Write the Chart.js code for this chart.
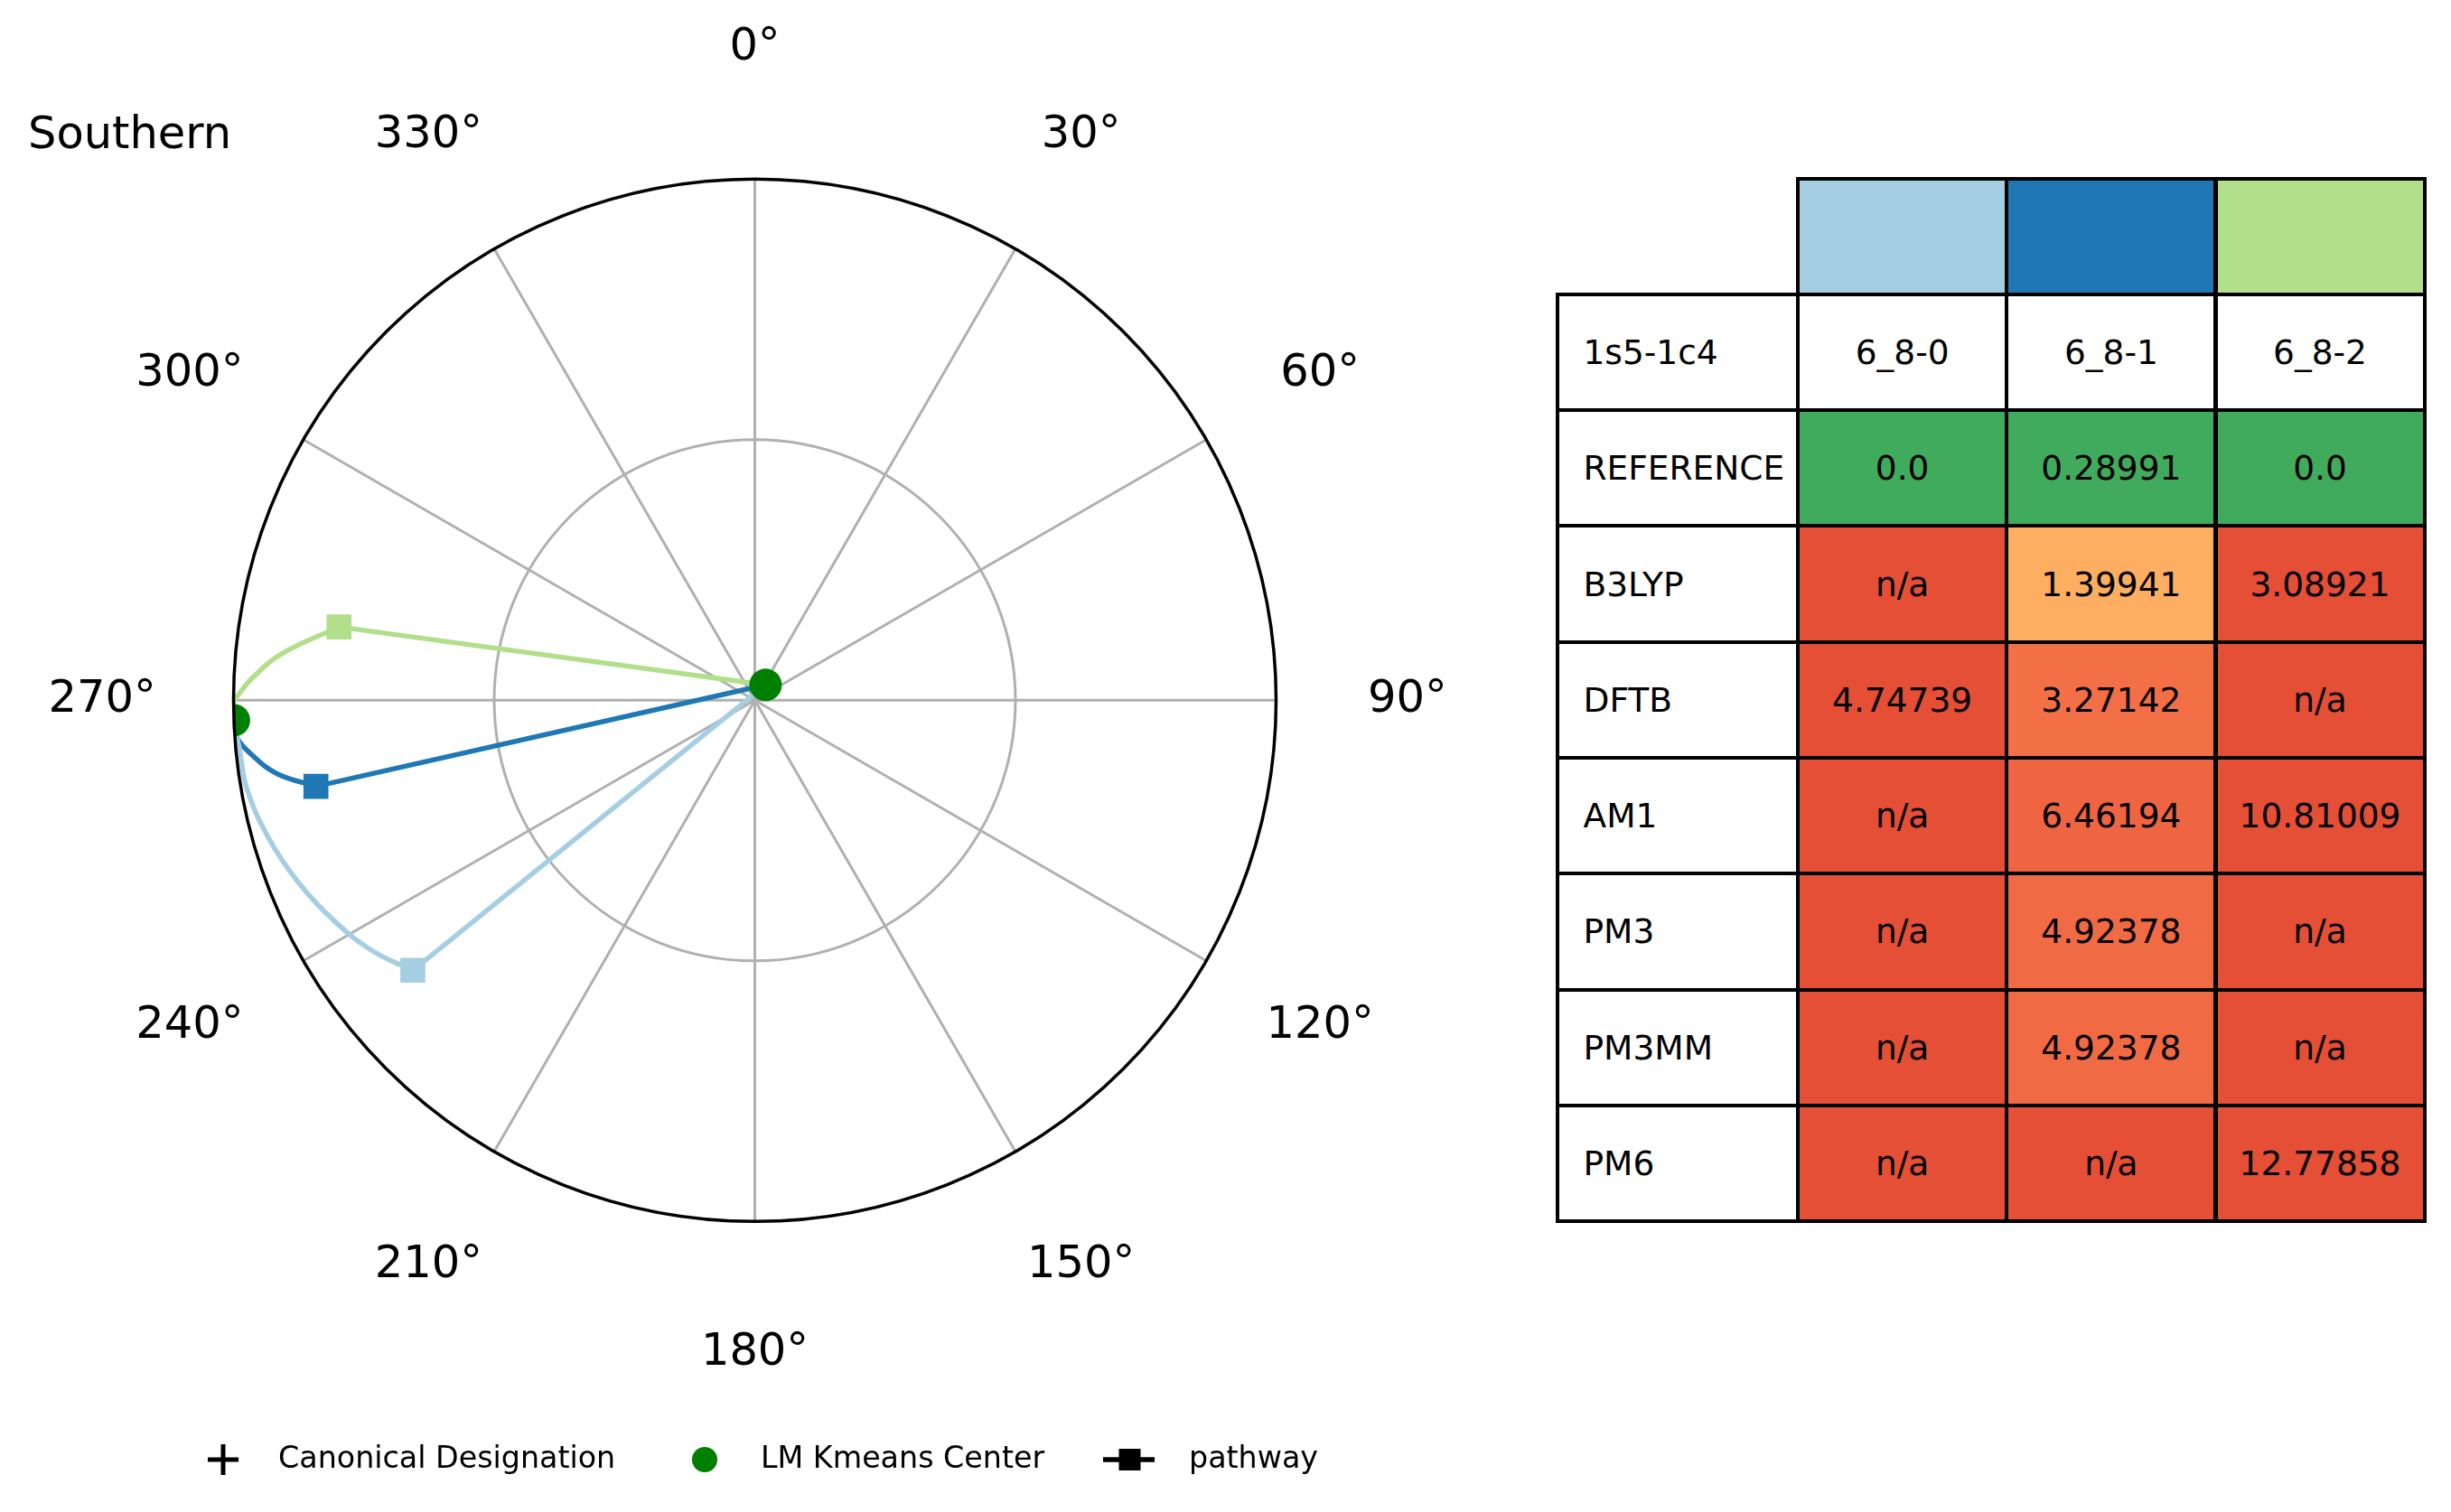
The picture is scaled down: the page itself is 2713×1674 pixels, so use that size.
<!DOCTYPE html>
<html><head><meta charset="utf-8">
<script src="https://cdn.jsdelivr.net/npm/chart.js@4.4.0/dist/chart.umd.min.js"></script>
<style>
html,body{margin:0;padding:0;background:#fff;}
#wrap{position:relative;width:2713px;height:1674px;overflow:hidden;background:#fff;}
#c{position:absolute;left:0;top:0;}
.cell{position:absolute;box-sizing:border-box;border:4px solid #000;font-family:'DejaVu Sans';font-size:37.5px;color:#000;display:flex;align-items:center;justify-content:center;white-space:nowrap;}
.lab{justify-content:flex-start;padding-left:27px;}
.blank{border:none;}
</style></head><body>
<div id="wrap"><canvas id="c" width="2713" height="1674"></canvas><div id="tbl"></div></div>
<script>
// ---------- data ----------
const titleText = 'Southern';
const angleTicks = [0, 30, 60, 90, 120, 150, 180, 210, 240, 270, 300, 330];
const radialGrid = [0.5];
const lmTheta = [35, 267.8];          // LM Kmeans centers (deg)
const lmR = [0.036, 1.0];
const pathNames = ['6_8-0', '6_8-1', '6_8-2'];
const pathColors = ['#a6cee3', '#1f78b4', '#b2df8a'];
// pathways: start LM -> pathway point (square) -> arc -> end LM
const path0Theta = [35, 231.7, 236.6, 242.3, 248.3, 254.3, 260.1, 264.5, 267.8];
const path0R     = [0.036, 0.836, 0.876, 0.911, 0.943, 0.970, 0.989, 0.993, 1.0];
const path1Theta = [35, 258.9, 261.25, 263.7, 266.0, 267.8];
const path1R     = [0.036, 0.858, 0.927, 0.969, 0.997, 1.0];
const path2Theta = [35, 280.0, 275.7, 272.6, 270.5, 269.8, 267.8];
const path2R     = [0.036, 0.810, 0.910, 0.964, 0.992, 1.0, 1.0];
const legendLabels = ['Canonical Designation', 'LM Kmeans Center', 'pathway'];
// table
const tableCorner = '1s5-1c4';
const tableMethods = ['REFERENCE', 'B3LYP', 'DFTB', 'AM1', 'PM3', 'PM3MM', 'PM6'];
const vals680 = ['0.0', 'n/a', '4.74739', 'n/a', 'n/a', 'n/a', 'n/a'];
const vals681 = ['0.28991', '1.39941', '3.27142', '6.46194', '4.92378', '4.92378', 'n/a'];
const vals682 = ['0.0', '3.08921', 'n/a', '10.81009', 'n/a', 'n/a', '12.77858'];
const cellColors680 = ['#41ab5d', '#e44f35', '#e44f35', '#e44f35', '#e44f35', '#e44f35', '#e44f35'];
const cellColors681 = ['#41ab5d', '#fdae61', '#f37046', '#ef6542', '#f06a44', '#f06a44', '#e44f35'];
const cellColors682 = ['#41ab5d', '#e44f35', '#e44f35', '#e44f35', '#e44f35', '#e44f35', '#e44f35'];

// ---------- helpers ----------
const rad = d => d * Math.PI / 180;
const toXY = (t, r) => ({ x: r * Math.sin(rad(t)), y: r * Math.cos(rad(t)) });
const paths = [[path0Theta, path0R], [path1Theta, path1R], [path2Theta, path2R]];

const datasets = [];
datasets.push({
  label: 'LM Kmeans Center',
  data: lmTheta.map((t, i) => toXY(t, lmR[i])),
  pointRadius: 18, pointHoverRadius: 18, pointBackgroundColor: '#008000', pointBorderWidth: 0,
  showLine: false, order: 0, clip: false
});
paths.forEach(([th, rr], k) => {
  const pts = th.map((t, i) => toXY(t, rr[i]));
  datasets.push({
    label: pathNames[k] + ' leg',
    data: pts.slice(0, 2),
    showLine: true, borderColor: pathColors[k], borderWidth: 5.5, tension: 0,
    pointRadius: [0, 18.5], pointHoverRadius: [0, 18.5], pointStyle: 'rect',
    pointBackgroundColor: pathColors[k], pointBorderColor: pathColors[k], pointBorderWidth: 1.5,
    order: 1, clip: false
  });
  datasets.push({
    label: pathNames[k] + ' arc',
    data: pts.slice(1),
    showLine: true, borderColor: pathColors[k], borderWidth: 5.5, tension: 0.4,
    pointRadius: 0, pointHoverRadius: 0, order: 2, clip: false
  });
});

const polarPlugin = {
  id: 'polarFrame',
  beforeDatasetsDraw(chart) {
    const ctx = chart.ctx, xs = chart.scales.x, ys = chart.scales.y;
    const cx = xs.getPixelForValue(0), cy = ys.getPixelForValue(0);
    const R = xs.getPixelForValue(1) - cx;
    ctx.save();
    ctx.strokeStyle = '#b0b0b0'; ctx.lineWidth = 3;
    angleTicks.forEach(a => {
      ctx.beginPath(); ctx.moveTo(cx, cy);
      ctx.lineTo(xs.getPixelForValue(Math.sin(rad(a))), ys.getPixelForValue(Math.cos(rad(a))));
      ctx.stroke();
    });
    radialGrid.forEach(g => {
      ctx.beginPath(); ctx.arc(cx, cy, g * R, 0, 2 * Math.PI); ctx.stroke();
    });
    ctx.restore();
    ctx.save();
    ctx.beginPath(); ctx.arc(cx, cy, R, 0, 2 * Math.PI); ctx.clip();
  },
  afterDatasetsDraw(chart) {
    const ctx = chart.ctx, xs = chart.scales.x, ys = chart.scales.y;
    ctx.restore();
    const cx = xs.getPixelForValue(0), cy = ys.getPixelForValue(0);
    const R = xs.getPixelForValue(1) - cx;
    ctx.save();
    ctx.strokeStyle = '#000'; ctx.lineWidth = 3.5;
    ctx.beginPath(); ctx.arc(cx, cy, R, 0, 2 * Math.PI); ctx.stroke();
    // angular tick labels
    ctx.fillStyle = '#000'; ctx.font = '49.5px "DejaVu Sans"';
    ctx.textAlign = 'center'; ctx.textBaseline = 'middle';
    angleTicks.forEach(a => {
      const lr = 1.252;
      ctx.fillText(a + '°', xs.getPixelForValue(lr * Math.sin(rad(a))), ys.getPixelForValue(lr * Math.cos(rad(a))));
    });
    // title
    ctx.textAlign = 'left';
    ctx.fillText(titleText, 31, 151);
    // legend
    const ly = 1616;
    ctx.font = '33.3px "DejaVu Sans"';
    ctx.fillText(legendLabels[0], 308, ly);
    ctx.fillText(legendLabels[1], 842, ly);
    ctx.fillText(legendLabels[2], 1316, ly);
    ctx.strokeStyle = '#000'; ctx.lineWidth = 5;
    ctx.beginPath(); ctx.moveTo(247, ly - 17); ctx.lineTo(247, ly + 17);
    ctx.moveTo(230, ly); ctx.lineTo(264, ly); ctx.stroke();
    ctx.fillStyle = '#008000';
    ctx.beginPath(); ctx.arc(780, ly, 14, 0, 2 * Math.PI); ctx.fill();
    ctx.lineWidth = 5.5;
    ctx.beginPath(); ctx.moveTo(1221, ly); ctx.lineTo(1278, ly); ctx.stroke();
    ctx.fillStyle = '#000';
    ctx.fillRect(1238.5, ly - 12, 24, 24);
    ctx.restore();
  }
};

new Chart(document.getElementById('c'), {
  type: 'scatter',
  data: { datasets },
  options: {
    responsive: false, animation: false, devicePixelRatio: 1,
    layout: { padding: { left: 258.5, right: 1300.5, top: 198.3, bottom: 321.7 } },
    scales: {
      x: { type: 'linear', min: -1, max: 1, display: false },
      y: { type: 'linear', min: -1, max: 1, display: false }
    },
    plugins: { legend: { display: false }, tooltip: { enabled: false } },
    events: []
  },
  plugins: [polarPlugin]
});

// ---------- table ----------
const colX = [1723.5, 1990, 2221.3, 2452.5, 2683.5];
const rowTop = 197.5, rowH = 128.3;
const tbl = document.getElementById('tbl');
function addCell(r, c, text, bg, cls) {
  const d = document.createElement('div');
  d.className = 'cell' + (cls ? ' ' + cls : '');
  const x0 = colX[c], x1 = colX[c + 1], y0 = rowTop + r * rowH, y1 = y0 + rowH;
  d.style.left = (x0 - 2) + 'px'; d.style.top = (y0 - 2) + 'px';
  d.style.width = (x1 - x0 + 4) + 'px'; d.style.height = (y1 - y0 + 4) + 'px';
  d.style.background = bg || '#fff';
  d.textContent = text;
  tbl.appendChild(d);
}
addCell(0, 0, '', 'transparent', 'blank');
pathColors.forEach((col, k) => addCell(0, k + 1, '', col));
addCell(1, 0, tableCorner, '#fff', 'lab');
pathNames.forEach((n, k) => addCell(1, k + 1, n, '#fff'));
const cols = [[vals680, cellColors680], [vals681, cellColors681], [vals682, cellColors682]];
tableMethods.forEach((m, i) => {
  addCell(i + 2, 0, m, '#fff', 'lab');
  cols.forEach(([v, c], k) => addCell(i + 2, k + 1, v[i], c[i]));
});
</script>
</body></html>
